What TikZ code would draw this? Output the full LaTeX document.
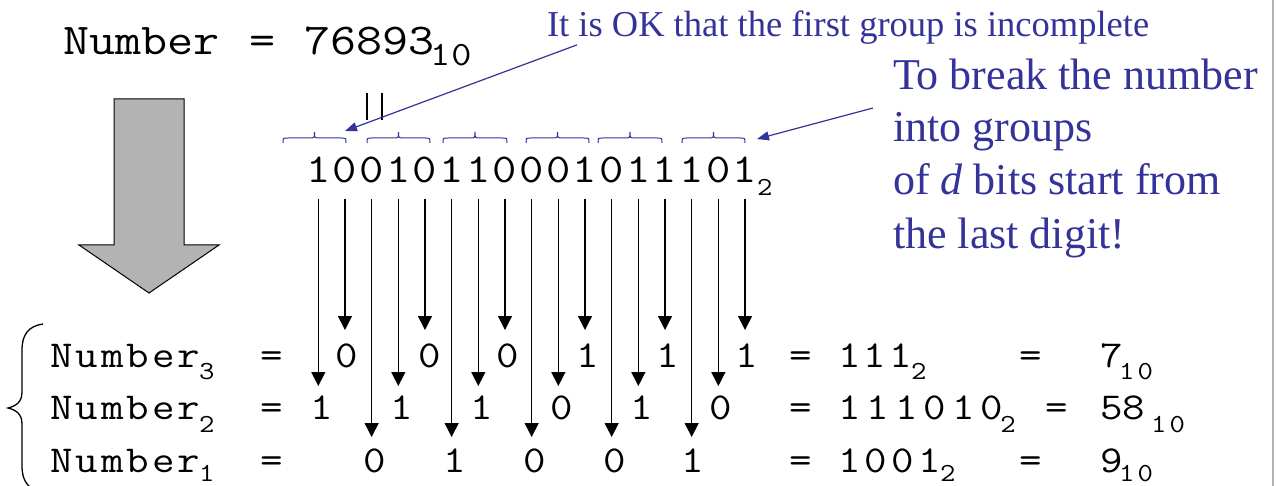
\documentclass[tikz,border=0pt]{standalone}
\usepackage{fontspec}
\setmainfont{Liberation Serif}
\newfontfamily\monof{Latin Modern Mono}[FakeStretch=1.15]
\usetikzlibrary{arrows.meta}
\definecolor{annblue}{RGB}{51,51,153}
\definecolor{arrowgray}{RGB}{179,179,179}
\newcommand\mt[2]{\monof\fontsize{#1}{#1}\selectfont\addfontfeature{LetterSpace=#2}}
\tikzset{
  txt/.style={inner sep=0pt, outer sep=0pt},
  barrow/.style={line width=1.3pt, -{Triangle[length=14pt,width=14pt]}},
  blarrow/.style={annblue, line width=1.2pt, -{Triangle[length=12pt,width=9pt]}},
  bbrace/.style={annblue, line width=1pt},
  ann/.style={txt, anchor=base west, text=annblue},
}
\begin{document}
\begin{tikzpicture}[x=1pt,y=-1pt]
\useasboundingbox (0,0) rectangle (1276,486);
\fill[white] (0,0) rectangle (1276,486);
\draw[gray!60, line width=1.5pt] (1273,0) -- (1273,486);

% title
\node[txt,anchor=base west,font=\mt{44}{0}] (tnum) at (63,55) {Number};
\node[txt,anchor=base,font=\mt{44}{0}] (teq) at (263,55) {=};
\node[txt,anchor=base west,font=\mt{44}{0}] (tval) at (304,55) {76893};
\node[txt,anchor=base west,font=\mt{34}{4}] (tsub) at (430,66) {10};

% equality marks
\draw[line width=1.2pt] (367,93) -- (367,120);
\draw[line width=1.2pt] (382,93) -- (382,120);

% big grey arrow
\draw[fill=arrowgray, line width=1pt] (114,99) -- (184,99) -- (184,245) -- (219,245)
  -- (149,293) -- (79,245) -- (114,245) -- cycle;

% binary number
\foreach \b [count=\k from 0] in {1,0,0,1,0,1,1,0,0,0,1,0,1,1,1,0,1}
  \node[txt,anchor=base,font=\mt{41}{0}] (b\k) at ({318.3+26.67*\k},183) {\b};
\node[txt,anchor=base west,font=\mt{26}{0}] (bsub) at (757,196) {2};

% blue braces
\foreach \xl/\xr in {283/346,367/430,443/507,526/589,598/662,682/745} {
  \pgfmathsetmacro\xc{(\xl+\xr)/2}
  \draw[bbrace] (\xl,143) .. controls (\xl,138) .. (\xl+5,138) -- (\xc-5,138)
    .. controls (\xc,138) .. (\xc,132) .. controls (\xc,138) .. (\xc+5,138)
    -- (\xr-5,138) .. controls (\xr,138) .. (\xr,143);
}

% arrows from bits
\foreach \k/\ty in {0/386,1/330,2/437,3/386,4/330,5/437,6/386,7/330,8/437,
                    9/386,10/330,11/437,12/386,13/330,14/437,15/386,16/330} {
  \coordinate (t\k) at ({318.3+26.67*\k},\ty);
  \draw[barrow] ([yshift=-16pt]b\k.south) -- (t\k);
}

% rows
\foreach \r/\yb/\ys in {3/367/379, 2/419/432, 1/472/481} {
  \node[txt,anchor=base west,font=\mt{38}{8}] (n\r) at (50,\yb) {Number};
  \node[txt,anchor=base west,font=\mt{26}{0}] (ns\r) at (199,\ys) {\r};
  \node[txt,anchor=base,font=\mt{38}{0}] (ne\r) at (272,\yb) {=};
  \node[txt,anchor=base,font=\mt{38}{0}] (re\r) at (801,\yb) {=};
}
\foreach \x/\d [count=\i] in {347/0,430/0,508/0,588/1,668/1,747/1}
  \node[txt,anchor=base,font=\mt{38}{0}] (da\i) at (\x,367) {\d};
\foreach \x/\d [count=\i] in {322/1,402/1,482/1,562/0,642/1,721/0}
  \node[txt,anchor=base,font=\mt{38}{0}] (db\i) at (\x,419) {\d};
\foreach \x/\d [count=\i] in {375/0,455/1,535/0,615/0,693/1}
  \node[txt,anchor=base,font=\mt{38}{0}] (dc\i) at (\x,472) {\d};

% results
\node[txt,anchor=base west,font=\mt{38}{9}] (v3) at (838,367) {111};
\node[txt,anchor=base west,font=\mt{26}{0}] (v3s) at (911,379) {2};
\node[txt,anchor=base,font=\mt{38}{0}] (q3) at (1031,367) {=};
\node[txt,anchor=base west,font=\mt{38}{0}] (w3) at (1100,367) {7};
\node[txt,anchor=base west,font=\mt{26}{12}] (w3s) at (1119,379) {10};

\node[txt,anchor=base west,font=\mt{38}{16}] (v2) at (838,419)
  {111010\kern-3pt\raisebox{-13pt}{\mt{26}{0}2}};
\node[txt,anchor=base,font=\mt{38}{0}] (q2) at (1057,419) {=};
\node[txt,anchor=base west,font=\mt{38}{0}] (w2) at (1100,419) {58};
\node[txt,anchor=base west,font=\mt{26}{12}] (w2s) at (1151,432) {10};

\node[txt,anchor=base west,font=\mt{38}{11}] (v1) at (838,472) {1001};
\node[txt,anchor=base west,font=\mt{26}{0}] (v1s) at (940,481) {2};
\node[txt,anchor=base,font=\mt{38}{0}] (q1) at (1031,472) {=};
\node[txt,anchor=base west,font=\mt{38}{0}] (w1) at (1100,472) {9};
\node[txt,anchor=base west,font=\mt{26}{12}] (w1s) at (1119,481) {10};

% left brace
\draw[line width=1.3pt] (43,324) .. controls (29,326) and (22,334) .. (22,350) -- (22,392)
  .. controls (22,402) and (16,406) .. (8,408) .. controls (16,410) and (22,414) .. (22,424)
  -- (22,466) .. controls (22,482) and (29,490) .. (43,492);

% annotations
\node[ann,font=\fontsize{36.5}{40}\selectfont] (ok) at (547,37) {It is OK that the first group is incomplete};
\node[ann,font=\fontsize{44}{52}\selectfont] (l1) at (893,90) {To break the number};
\node[ann,font=\fontsize{44}{52}\selectfont] (l2) at (893,142) {into groups};
\node[ann,font=\fontsize{44}{52}\selectfont] (l3) at (893,195) {of \textit{d} bits start from};
\node[ann,font=\fontsize{44}{52}\selectfont] (l4) at (893,248) {the last digit!};

\coordinate (okto) at (345,131);
\coordinate (brfrom) at (873,108);
\coordinate (brto) at (757,139);
\draw[blarrow] ([xshift=30pt]ok.south west) -- (okto);
\draw[blarrow] (brfrom) -- (brto);
\end{tikzpicture}
\end{document}
